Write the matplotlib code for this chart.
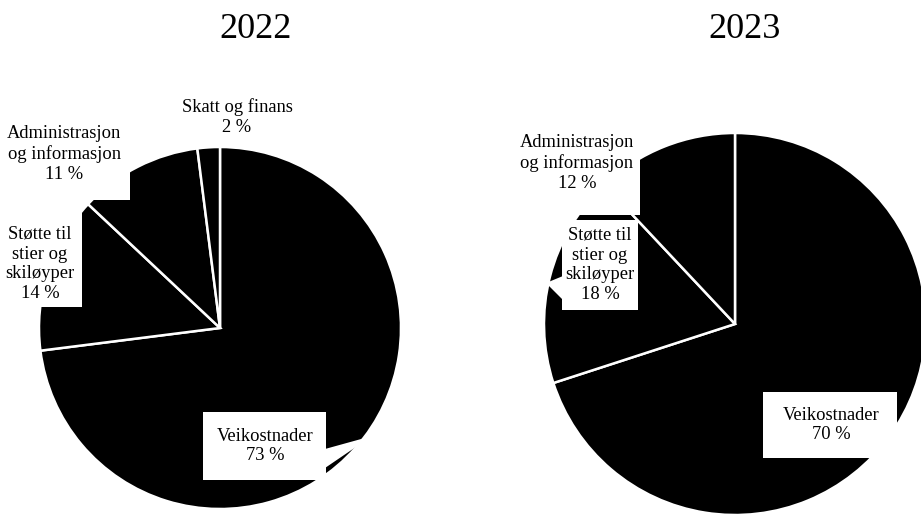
import matplotlib
matplotlib.use("Agg")
import matplotlib.pyplot as plt
from matplotlib.patches import Rectangle, Polygon

# ---- data ----
years = ["2022", "2023"]
labels_2022 = ["Veikostnader", "Støtte til\nstier og\nskiløyper", "Administrasjon\nog informasjon", "Skatt og finans"]
values_2022 = [73, 14, 11, 2]
labels_2023 = ["Veikostnader", "Støtte til\nstier og\nskiløyper", "Administrasjon\nog informasjon"]
values_2023 = [70, 18, 12]

W, H = 921, 515
fig = plt.figure(figsize=(W / 100, H / 100), dpi=100)
fig.patch.set_facecolor("white")
FONT = "Liberation Serif"


def fx(x):
    return x / W


def fy(y):
    return 1 - y / H


def pie_axes(cx, cy, r):
    return fig.add_axes([fx(cx - r), fy(cy + r), 2 * r / W, 2 * r / H])


def draw_pie(ax, values):
    ax.pie(values, radius=1, startangle=90, counterclock=False,
           colors=["black"] * len(values),
           wedgeprops=dict(edgecolor="white", linewidth=1.8))
    ax.set_xlim(-1, 1)
    ax.set_ylim(-1, 1)
    ax.set_aspect("equal")
    ax.axis("off")


def box(x0, y0, x1, y1):
    fig.add_artist(Rectangle((fx(x0), fy(y1)), fx(x1) - fx(x0), fy(y0) - fy(y1),
                             transform=fig.transFigure, facecolor="white",
                             edgecolor="none", zorder=5))


def pointer(pts):
    fig.add_artist(Polygon([(fx(a), fy(b)) for a, b in pts], closed=True,
                           transform=fig.transFigure, facecolor="white",
                           edgecolor="none", zorder=5))


def label(x, y, lab, val):
    fig.text(fx(x), fy(y), f"{lab}\n{val} %", ha="center", va="center",
             family=FONT, fontsize=13.3, linespacing=1.22, zorder=6)


# ---- 2022 ----
ax1 = pie_axes(220, 328, 181)
draw_pie(ax1, values_2022)
fig.text(fx(256), fy(29), years[0], ha="center", va="center", family=FONT, fontsize=26)
box(0, 112, 130, 200)
box(0, 208, 82, 307)
box(203, 412, 326, 480)
pointer([(325, 449), (372, 436), (325, 468)])
label(265, 446, labels_2022[0], values_2022[0])
label(40, 264, labels_2022[1], values_2022[1])
label(64, 154, labels_2022[2], values_2022[2])
label(237, 117, labels_2022[3], values_2022[3])

# ---- 2023 ----
ax2 = pie_axes(735, 324, 191)
draw_pie(ax2, values_2023)
fig.text(fx(745), fy(29), years[1], ha="center", va="center", family=FONT, fontsize=26)
box(512, 120, 640, 215)
box(562, 220, 638, 310)
pointer([(563, 276), (546, 283), (563, 300)])
box(763, 392, 897, 458)
label(831, 425, labels_2023[0], values_2023[0])
label(600, 265, labels_2023[1], values_2023[1])
label(577, 163, labels_2023[2], values_2023[2])

fig.savefig("out.png", dpi=100, facecolor="white")
